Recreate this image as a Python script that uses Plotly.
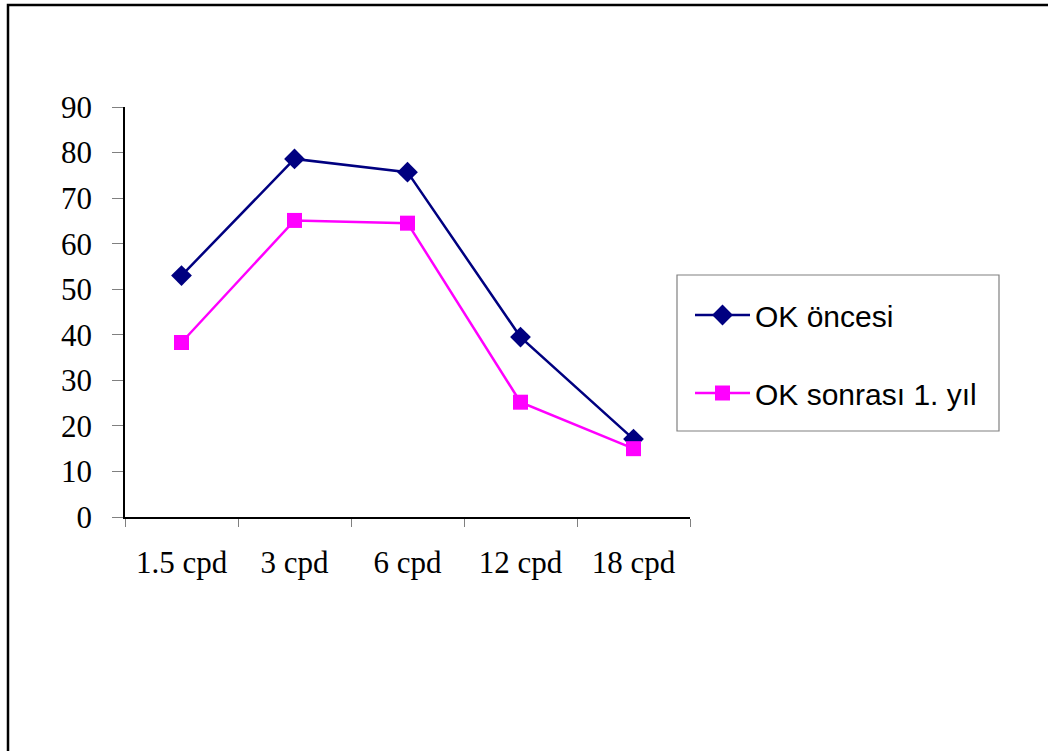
import plotly.graph_objects as go

categories = ["1.5 cpd", "3 cpd", "6 cpd", "12 cpd", "18 cpd"]
before_vals = [53.0, 78.6, 75.7, 39.5, 17.1]
after_vals = [38.3, 65.1, 64.5, 25.2, 15.0]
series_names = ["OK öncesi", "OK sonrası 1. yıl"]
y_ticks = [0, 10, 20, 30, 40, 50, 60, 70, 80, 90]

fig = go.Figure()
fig.add_trace(go.Scatter(
    x=categories, y=before_vals, name=series_names[0], mode="lines+markers",
    line=dict(color="#000080", width=2.5),
    marker=dict(symbol="diamond", size=16, color="#000080"),
    legendgroup="a",
))
fig.add_trace(go.Scatter(
    x=categories, y=after_vals, name=series_names[1], mode="lines+markers",
    line=dict(color="#FF00FF", width=2.5),
    marker=dict(symbol="square", size=15, color="#FF00FF"),
    legendgroup="b",
))

L, R, T, B = 125, 690, 107, 517
W, H = 1048, 751

def px_x(p):
    return (p - L) / (R - L)

def px_y(p):
    return (B - p) / (B - T)

fig.update_layout(
    width=W, height=H,
    margin=dict(l=L, r=W - R, t=T, b=H - B, pad=0),
    paper_bgcolor="white", plot_bgcolor="white",
    font=dict(family="Liberation Serif, Times New Roman, serif", size=31, color="black"),
    showlegend=True,
    legend=dict(
        x=px_x(690), y=px_y(289), xanchor="left", yanchor="top",
        borderwidth=0, bgcolor="rgba(0,0,0,0)",
        font=dict(family="Liberation Sans, Arial, sans-serif", size=30, color="black"),
        tracegroupgap=36, traceorder="grouped", itemwidth=55,
    ),
    xaxis=dict(
        type="category", showline=True, linecolor="black", linewidth=1.5,
        ticks="outside", tickson="boundaries", ticklen=8, tickcolor="#808080",
        showgrid=False, zeroline=False, ticklabelstandoff=17,
        range=[-0.5, 4.5],
    ),
    yaxis=dict(
        range=[0, 90], tickvals=y_ticks, showline=True, linecolor="black", linewidth=1.5,
        ticks="outside", ticklen=11, tickcolor="#808080", showgrid=False, zeroline=False,
        ticklabelstandoff=14,
    ),
    shapes=[
        dict(
            type="rect", xref="paper", yref="paper",
            x0=px_x(8), x1=px_x(1070), y0=px_y(770), y1=px_y(5),
            line=dict(color="black", width=2.5), layer="below",
        ),
        dict(
            type="rect", xref="paper", yref="paper",
            x0=px_x(677), x1=px_x(999), y0=px_y(431), y1=px_y(275),
            line=dict(color="#808080", width=1.2), fillcolor="white", layer="below",
        ),
    ],
)

fig.write_html("out.html")
